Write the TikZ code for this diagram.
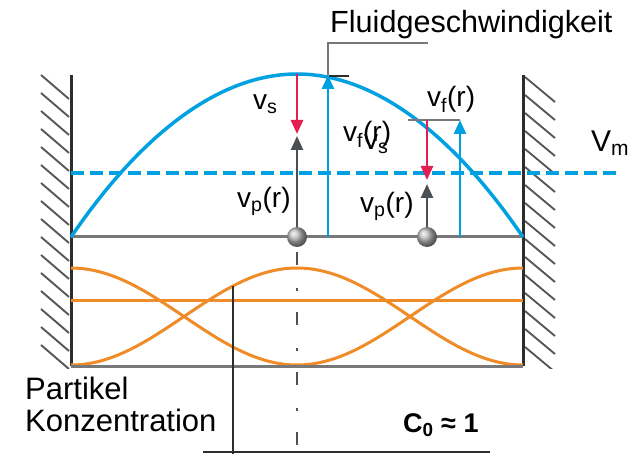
\documentclass[tikz,border=0pt]{standalone}
\usepackage{fontspec}
\setmainfont{Liberation Sans}
\usetikzlibrary{arrows.meta}

\definecolor{fluidblue}{RGB}{0,160,225}
\definecolor{slipred}{RGB}{228,30,80}
\definecolor{concorange}{RGB}{240,140,40}
\definecolor{partgray}{RGB}{75,80,85}
\definecolor{linegray}{RGB}{120,120,120}
\definecolor{walldark}{RGB}{45,45,45}

\tikzset{
    wall/.style={walldark, line width=3pt},
    hatch/.style={walldark!80, line width=1.9pt},
    axisline/.style={linegray, line width=3pt},
    profile/.style={fluidblue, line width=3.5pt},
    conc/.style={concorange, line width=3pt},
    vtip/.style={-{Triangle[length=14pt,width=12pt]}},
    vfluid/.style={vtip, fluidblue, line width=2.5pt},
    vslip/.style={vtip, slipred, line width=2.5pt},
    vpart/.style={vtip, partgray, line width=2.5pt},
    particle/.style={circle, minimum size=20pt, inner sep=0pt, shading=ball, ball color=gray!55},
    lbl/.style={inner sep=0pt, anchor=base west, font=\fontsize{28}{30}\selectfont},
    bigtext/.style={inner sep=0pt, font=\fontsize{31}{32}\selectfont}
}

\begin{document}
\begin{tikzpicture}[x=1pt, y=-1pt]
    \useasboundingbox (0,0) rectangle (632,454);

    % Walls
    \begin{scope}
        \clip (38,74) rectangle (70,368);
        \foreach \y in {75,93,...,345} \draw[hatch] (41,\y) -- (69,\y+24);
    \end{scope}
    \begin{scope}
        \clip (524,74) rectangle (558,368);
        \foreach \y in {77,95,...,347} \draw[hatch] (525,\y) -- (555,\y+25);
    \end{scope}
    \draw[wall] (71,75) -- (71,366);
    \draw[wall] (523,75) -- (523,366);

    % Velocity profile
    \draw[axisline] (71,237) -- (523,237);
    \draw[profile] (71,237) parabola bend (297,74) (523,237);
    \draw[fluidblue, line width=3.5pt, dash pattern=on 13pt off 6pt] (71,173) -- (621,173);
    \node[lbl, font=\fontsize{30}{32}\selectfont] (vm) at (591,152) {V\textsubscript{m}};

    % Concentration
    \draw[conc] (71,301) -- (523,301);
    \draw[conc] plot[domain=71:523, samples=90] (\x,{316.5+48.5*cos(((\x-297)/452)*360)});
    \draw[conc] plot[domain=71:523, samples=90] (\x,{316.5-48.5*cos(((\x-297)/452)*360)});
    \draw[axisline] (71,366) -- (523,366);

    % Centre line
    \draw[partgray, line width=2.2pt, dash pattern=on 13pt off 23pt on 3pt off 21pt] (297,252) -- (297,452);

    % Labels at the top
    \coordinate (apex) at (297,74);
    \coordinate (fbase) at (328,237);
    \coordinate (ftop) at (328,75);
    \coordinate (bend) at (328,43);
    \coordinate (bendend) at (428,43);
    \node[bigtext, anchor=base west, font=\fontsize{30.6}{32}\selectfont] (fluid) at (330,33) {Fluidgeschwindigkeit};
    \draw[linegray, line width=2pt] (ftop) -- (bend) -- (bendend);
    \draw[walldark, line width=1.5pt] (329,76) -- (349,76);
    \draw[vfluid] (fbase) -- (ftop);

    % Particle in the middle
    \node[particle] (pmid) at (297,237) {};
    \coordinate (pmidtip) at (297,136);
    \coordinate (smidtip) at (297,134);
    \draw[vpart] (pmid) -- (pmidtip);
    \draw[vslip] (apex) -- (smidtip);
    \node[lbl] (vsmid) at (253,110) {v\textsubscript{s}};
    \node[lbl] (vpmid) at (237,208) {v\textsubscript{p}(r)};

    % Particle off the middle
    \coordinate (fout) at (460,237);
    \coordinate (fouttip) at (460,120);
    \coordinate (slipstart) at (427,120);
    \coordinate (barleft) at (408,120);
    \coordinate (pouttip) at (427,184);
    \coordinate (souttip) at (427,180);
    \node[particle] (pout) at (427,237) {};
    \draw[linegray, line width=2.5pt] (barleft) -- (fouttip);
    \draw[vfluid] (fout) -- (fouttip);
    \draw[vpart] (pout) -- (pouttip);
    \draw[vslip] (slipstart) -- (souttip);
    \node[lbl] (vfout) at (427,107) {v\textsubscript{f}(r)};
    \node[lbl] (vfin) at (343,142) {v\textsubscript{f}(r)};
    \node[lbl] (vsin) at (364,150) {v\textsubscript{s}};
    \node[lbl] (vpout) at (360,213) {v\textsubscript{p}(r)};

    % Concentration labels
    \coordinate (pointtop) at (233,286);
    \coordinate (pointbot) at (233,454);
    \coordinate (baseleft) at (203,452);
    \coordinate (baseright) at (490,452);
    \draw[walldark, line width=1.8pt] (pointtop) -- (pointbot);
    \draw[walldark, line width=1.8pt] (baseleft) -- (baseright);
    \node[bigtext, anchor=north west, align=left] (konz) at (25,377) {Partikel\\Konzentration};
    \node[lbl, font=\bfseries\fontsize{27}{30}\selectfont] (czero) at (403,432) {C\textsubscript{0} ≈ 1};
\end{tikzpicture}
\end{document}
